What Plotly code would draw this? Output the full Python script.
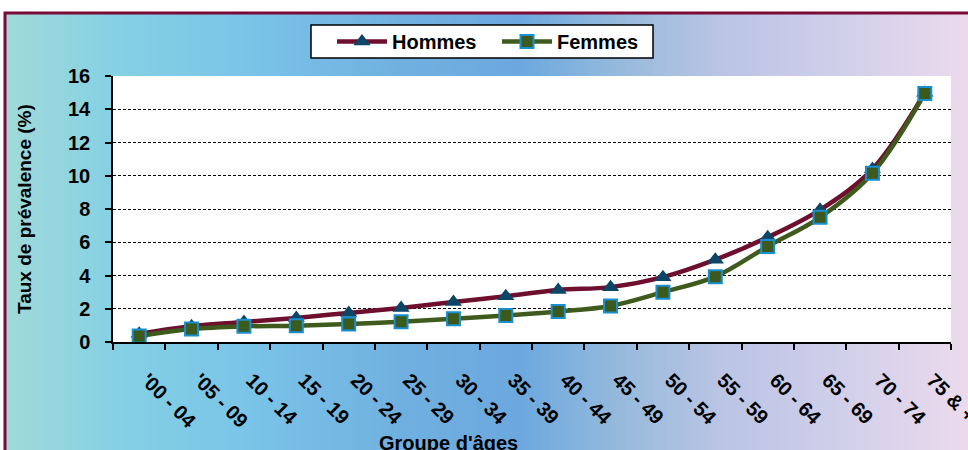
import plotly.graph_objects as go

categories = ["'00 - 04", "'05 - 09", "10 - 14", "15 - 19", "20 - 24", "25 - 29", "30 - 34",
              "35 - 39", "40 - 44", "45 - 49", "50 - 54", "55 - 59", "60 - 64", "65 - 69",
              "70 - 74", "75 & +"]
hommes = [0.5, 0.95, 1.2, 1.45, 1.75, 2.05, 2.4, 2.75, 3.13, 3.3, 3.9, 4.95, 6.3, 7.95, 10.4, 15.0]
femmes = [0.36, 0.78, 0.94, 0.98, 1.08, 1.22, 1.4, 1.6, 1.83, 2.17, 3.0, 3.93, 5.75, 7.5, 10.15, 14.95]
y_ticks = [0, 2, 4, 6, 8, 10, 12, 14, 16]

W, H = 968, 450
L, R, T, B = 113, 17, 76, 108
PW, PH = W - L - R, H - T - B

def px(x):
    return (x - L) / PW

def py(y):
    return (H - B - y) / PH

FONT = "Liberation Sans, Arial, sans-serif"

fig = go.Figure()
fig.add_trace(go.Scatter(
    x=categories, y=hommes, name="Hommes", mode="lines+markers",
    line=dict(color="#6e0f2e", width=4.5, shape="spline"),
    marker=dict(symbol="triangle-up", size=15, color="#0d4566", line=dict(width=0)),
))
fig.add_trace(go.Scatter(
    x=categories, y=femmes, name="Femmes", mode="lines+markers",
    line=dict(color="#3e5a1c", width=4.5, shape="spline"),
    marker=dict(symbol="square", size=13, color="#3d5a1e", line=dict(color="#1a8fd0", width=2)),
))

# background gradient strips
stops = [(5, (160, 218, 218)), (120, (132, 208, 228)), (250, (122, 196, 232)),
         (400, (112, 176, 224)), (520, (108, 168, 222)), (620, (150, 186, 220)),
         (720, (186, 196, 228)), (830, (206, 206, 234)), (968, (236, 218, 236))]

def col_at(x):
    for (x0, c0), (x1, c1) in zip(stops[:-1], stops[1:]):
        if x0 <= x <= x1:
            t = (x - x0) / (x1 - x0)
            return "rgb(%d,%d,%d)" % tuple(round(a + (b - a) * t) for a, b in zip(c0, c1))
    return "rgb(%d,%d,%d)" % stops[-1][1]

shapes = []
step = 4
x = 5
while x < 972:
    shapes.append(dict(type="rect", xref="paper", yref="paper", layer="below",
                       x0=px(x), x1=px(x + step + 0.5), y0=py(460), y1=py(13),
                       fillcolor=col_at(x + step / 2), line=dict(width=0)))
    x += step
# white plot area
shapes.append(dict(type="rect", xref="paper", yref="paper", layer="below",
                   x0=0, x1=1, y0=0, y1=1, fillcolor="white", line=dict(width=0)))
# legend box
shapes.append(dict(type="rect", xref="paper", yref="paper", layer="below",
                   x0=px(311), x1=px(653), y0=py(58), y1=py(25),
                   fillcolor="white", line=dict(color="black", width=1.5)))
# frame
shapes.append(dict(type="rect", xref="paper", yref="paper", layer="above",
                   x0=px(5), x1=px(1010), y0=py(480), y1=py(13),
                   fillcolor="rgba(0,0,0,0)", line=dict(color="#7a0a36", width=3)))

fig.update_layout(
    width=W, height=H,
    margin=dict(l=L, r=R, t=T, b=B, pad=0, autoexpand=False),
    paper_bgcolor="white", plot_bgcolor="white",
    font=dict(family=FONT, color="black"),
    shapes=shapes,
    showlegend=True,
    legend=dict(orientation="h", x=px(332), y=py(41.5), xanchor="left", yanchor="middle",
                bgcolor="rgba(0,0,0,0)", borderwidth=0,
                font=dict(size=20, family=FONT, color="black", weight="bold"),
                itemwidth=50, entrywidth=100, entrywidthmode="pixels", tracegroupgap=0),
    xaxis=dict(
        type="category", range=[-0.5, len(categories) - 0.5], automargin=False,
        tickmode="array", tickvals=categories,
        ticktext=["\u00a0\u00a0" + c for c in categories],
        showgrid=False, showline=True, linecolor="black", linewidth=1.5,
        ticks="outside", tickson="boundaries", ticklen=6, tickcolor="black", tickwidth=1.5,
        tickangle=45, ticklabelstandoff=9,
        tickfont=dict(size=20, family=FONT, color="black", weight="bold"),
        zeroline=False,
    ),
    yaxis=dict(
        range=[0, 16], tickvals=y_ticks, showgrid=True, gridcolor="black", gridwidth=1,
        griddash="3px,2px", showline=True, linecolor="black", linewidth=1.5, automargin=False,
        ticks="outside", ticklen=6, tickcolor="black", tickwidth=1.5, ticklabelstandoff=11,
        tickfont=dict(size=20, family=FONT, color="black", weight="bold"),
        zeroline=False,
    ),
    annotations=[
        dict(text="Taux de prévalence (%)", xref="paper", yref="paper", x=px(24), y=py(209),
             xanchor="center", yanchor="middle", textangle=-90, showarrow=False,
             font=dict(size=19, family=FONT, color="black", weight="bold")),
        dict(text="Groupe d'âges", xref="paper", yref="paper", x=px(448), y=py(443),
             xanchor="center", yanchor="middle", showarrow=False,
             font=dict(size=20, family=FONT, color="black", weight="bold")),
    ],
)

fig.write_html("out.html", config={"displayModeBar": False},
               post_script="document.body.style.margin='0';document.body.style.overflow='hidden';")
